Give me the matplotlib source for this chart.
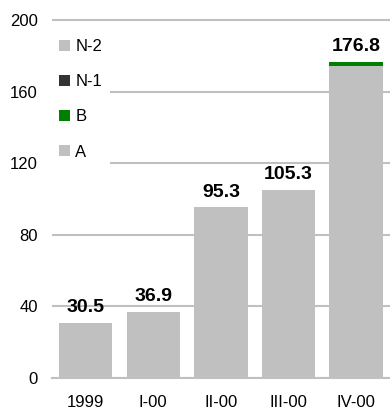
import matplotlib
matplotlib.use("Agg")
import matplotlib.pyplot as plt
import numpy as np

plt.rcParams['font.family'] = ['Liberation Sans', 'DejaVu Sans']

# chart data
categories = ['1999', 'I-00', 'II-00', 'III-00', 'IV-00']
a_vals = [30.5, 36.9, 95.3, 105.3, 174.5]
b_vals = [0, 0, 0, 0, 2.3]
n1_vals = [0, 0, 0, 0, 0]
n2_vals = [0, 0, 0, 0, 0]
totals = [30.5, 36.9, 95.3, 105.3, 176.8]
yticks = [0, 40, 80, 120, 160, 200]

fig = plt.figure(figsize=(3.9, 4.12), dpi=100)
ax = fig.add_axes([0.133, 0.0825, 0.867, 0.8775])

x = np.arange(len(categories))
w = 0.79
bottom = np.zeros(len(categories))
series = [('A', a_vals, '#c0c0c0'), ('B', b_vals, '#008000'),
          ('N-1', n1_vals, '#333333'), ('N-2', n2_vals, '#c0c0c0')]
for name, vals, col in series:
    ax.bar(x, vals, w, bottom=bottom, color=col, label=name, zorder=2)
    bottom += np.array(vals)

# total labels above each bar
for xi, t in zip(x, totals):
    ax.annotate(f'{t:.1f}', (xi, t), xytext=(0, 5), textcoords='offset points',
                ha='center', va='bottom', fontsize=14, fontweight='bold', zorder=5)

ax.set_xlim(-0.5, 4.5)
ax.set_ylim(0, 202)
ax.set_yticks(yticks)
ax.set_xticks(x)
ax.set_xticklabels(categories)
ax.tick_params(axis='both', length=0, labelsize=12)
ax.tick_params(axis='y', pad=10)
ax.tick_params(axis='x', pad=12)
ax.yaxis.grid(True, color='#c0c0c0', linewidth=1.5)
ax.set_axisbelow(True)
for s in ['top', 'right', 'left']:
    ax.spines[s].set_visible(False)
ax.spines['bottom'].set_color('#c0c0c0')
ax.spines['bottom'].set_linewidth(1.5)

handles, labels = ax.get_legend_handles_labels()
leg = ax.legend(handles[::-1], labels[::-1], loc='upper left',
                bbox_to_anchor=(0, 0.958), frameon=True, fontsize=12,
                handlelength=0.66, handleheight=0.66, handletextpad=0.3,
                labelspacing=1.21, borderpad=0.45, borderaxespad=0, fancybox=False)
leg.get_frame().set_facecolor('white')
leg.get_frame().set_edgecolor('none')
leg.get_frame().set_alpha(1)

fig.savefig('out.png', dpi=100)
